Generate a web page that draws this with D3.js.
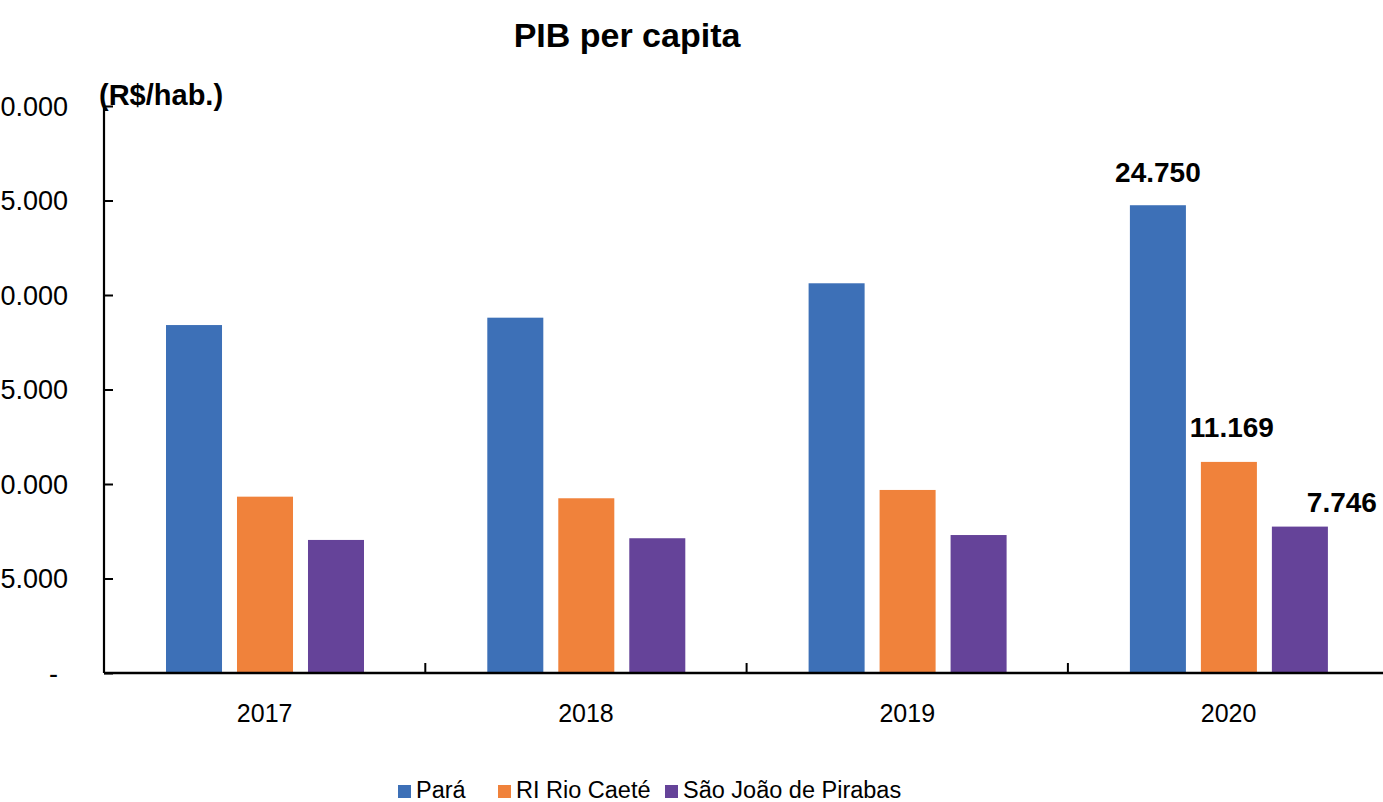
<!DOCTYPE html>
<html>
<head>
<meta charset="utf-8">
<script src="https://cdn.jsdelivr.net/npm/d3@7"></script>
<style>
  html, body { margin: 0; padding: 0; background: #fff; overflow: hidden; }
  text { font-family: "Liberation Sans", Arial, sans-serif; fill: #000; }
</style>
</head>
<body>
<svg id="chart" width="1383" height="802"></svg>
<script>
// data
var years = ["2017", "2018", "2019", "2020"];
var seriesNames = ["Pará", "RI Rio Caeté", "São João de Pirabas"];
var para = [18410, 18800, 20620, 24750];
var rioCaete = [9330, 9245, 9685, 11169];
var saoJoao = [7040, 7130, 7300, 7746];
var yTicks = [0, 5000, 10000, 15000, 20000, 25000, 30000];
var labelled = [{ year: "2020", idx: 0, text: "24.750" },
                { year: "2020", idx: 1, text: "11.169" },
                { year: "2020", idx: 2, text: "7.746" }];

var colors = ["#3d70b7", "#f0823b", "#654399"];
var values = [para, rioCaete, saoJoao];

var svg = d3.select("#chart");

var plotLeft = 104, plotBottom = 673, plotTop = 106, band = 321.3;

var x0 = d3.scaleBand()
  .domain(years)
  .range([plotLeft, plotLeft + band * years.length])
  .padding(0);

var x1 = d3.scaleBand()
  .domain(d3.range(seriesNames.length))
  .range([62, 260])
  .paddingInner(0.211)
  .paddingOuter(0);

var y = d3.scaleLinear()
  .domain([0, 30000])
  .range([plotBottom, plotTop]);

// bars
var groups = svg.append("g").selectAll("g")
  .data(years)
  .enter().append("g")
  .attr("transform", function(d) { return "translate(" + x0(d) + ",0)"; });

groups.selectAll("rect")
  .data(function(d, i) { return values.map(function(s, k) { return { k: k, v: s[i] }; }); })
  .enter().append("rect")
  .attr("x", function(d) { return x1(d.k); })
  .attr("width", x1.bandwidth())
  .attr("y", function(d) { return y(d.v); })
  .attr("height", function(d) { return plotBottom - y(d.v); })
  .attr("fill", function(d) { return colors[d.k]; });

// y axis
var fmt = function(d) { return d === 0 ? "-" : d3.format(",")(d).replace(/,/g, "."); };
var yAxis = svg.append("g")
  .attr("transform", "translate(" + plotLeft + ",0)")
  .call(d3.axisRight(y).tickValues(yTicks).tickSize(9).tickFormat(fmt));
yAxis.select(".domain").attr("stroke", "#000").attr("stroke-width", 2.2)
  .attr("d", "M0," + plotTop + "V" + plotBottom);
yAxis.selectAll(".tick line").attr("stroke", "#000").attr("stroke-width", 2);
yAxis.selectAll(".tick text")
  .attr("x", function(d) { return d === 0 ? -46 : -36; })
  .attr("text-anchor", "end")
  .style("font-size", "27px")
  .attr("dy", "0.35em");

// x axis
var xAxis = svg.append("g")
  .attr("transform", "translate(0," + plotBottom + ")");
xAxis.append("line")
  .attr("x1", plotLeft).attr("x2", 1383)
  .attr("stroke", "#000").attr("stroke-width", 2.4);
xAxis.selectAll(".xt")
  .data(years.slice(1))
  .enter().append("line")
  .attr("x1", function(d) { return x0(d); })
  .attr("x2", function(d) { return x0(d); })
  .attr("y1", 0).attr("y2", -10)
  .attr("stroke", "#000").attr("stroke-width", 2);
xAxis.selectAll(".xl")
  .data(years)
  .enter().append("text")
  .attr("x", function(d) { return x0(d) + band / 2; })
  .attr("y", 49)
  .attr("text-anchor", "middle")
  .style("font-size", "25px")
  .text(function(d) { return d; });

// value labels on 2020
var nudge = [[0, -23], [3, -25], [42, -15]];
svg.selectAll(".vl")
  .data(labelled)
  .enter().append("text")
  .attr("x", function(d) { return x0(d.year) + x1(d.idx) + x1.bandwidth() / 2 + nudge[d.idx][0]; })
  .attr("y", function(d) { return y(values[d.idx][years.indexOf(d.year)]) + nudge[d.idx][1]; })
  .attr("text-anchor", "middle")
  .style("font-size", "28px")
  .style("font-weight", "bold")
  .text(function(d) { return d.text; });

// title and unit
svg.append("text")
  .attr("x", 627).attr("y", 47)
  .attr("text-anchor", "middle")
  .style("font-size", "34px").style("font-weight", "bold")
  .text("PIB per capita");
svg.append("text")
  .attr("x", 99).attr("y", 105)
  .style("font-size", "29px").style("font-weight", "bold")
  .text("(R$/hab.)");

// legend
var legendX = [398, 498, 665];
var legend = svg.append("g").selectAll("g")
  .data(seriesNames)
  .enter().append("g")
  .attr("transform", function(d, i) { return "translate(" + legendX[i] + ",785)"; });
legend.append("rect")
  .attr("width", 13).attr("height", 13)
  .attr("fill", function(d, i) { return colors[i]; });
legend.append("text")
  .attr("x", 18).attr("y", 13)
  .style("font-size", "23.5px")
  .text(function(d) { return d; });
</script>
</body>
</html>
